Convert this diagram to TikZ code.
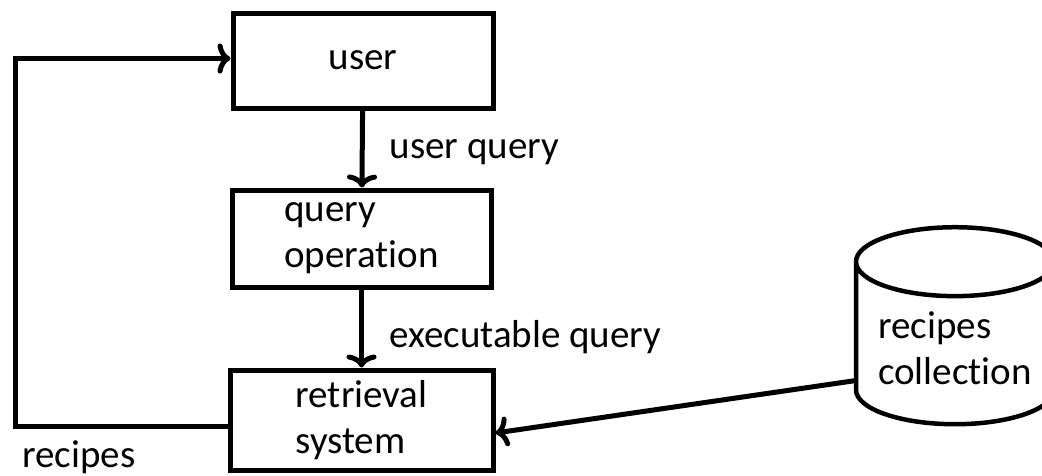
\documentclass[tikz,border=0pt]{standalone}
\usepackage{fontspec}
\setmainfont[Ligatures={NoCommon}]{Carlito}
\usetikzlibrary{shapes.geometric,arrows.meta}

\begin{document}
\begin{tikzpicture}[x=1pt,y=-1pt,
		box/.style={draw,line width=5pt,align=left,font=\fontsize{39}{46}\selectfont},
		flow/.style={line width=5pt,-{To[length=13pt,width=30pt]}},
		lbl/.style={font=\fontsize{39}{46}\selectfont}]
		
		\useasboundingbox (0,0) rectangle (1042,475);
		
		% the three steps
		\node[box,minimum width=260,minimum height=95] (user) at (363,60.5) {user};
		\node[box,minimum width=259,minimum height=97] (qop) at (361.5,238.5) {query\\operation};
		\node[box,minimum width=263,minimum height=100] (ret) at (361.5,420) {retrieval\\system};
		
		% the collection
		\node[draw,line width=4.5pt,shape=cylinder,shape border rotate=90,aspect=0.43,
			minimum width=198,minimum height=197,align=left,
			font=\fontsize{39}{46}\selectfont] (coll) at (955,348.5) {recipes\\collection};
		
		\draw[flow] (user) -- (qop);
		\draw[flow] (qop) -- (ret);
		\draw[flow] ([xshift=-99pt,yshift=-32pt]coll.center) -- ([yshift=-13pt]ret.east);
		
		% back to the user
		\coordinate (loop) at (15,426);
		\draw[flow] ([yshift=-6pt]ret.west) -- (loop) |- ([yshift=2pt]user.west);
		
		\node[lbl,anchor=west] (uq) at (386,152) {user query};
		\node[lbl,anchor=west] (eq) at (386,337) {executable query};
		\node[lbl] (rcp) at (79,457) {recipes};
		
	\end{tikzpicture}
\end{document}
